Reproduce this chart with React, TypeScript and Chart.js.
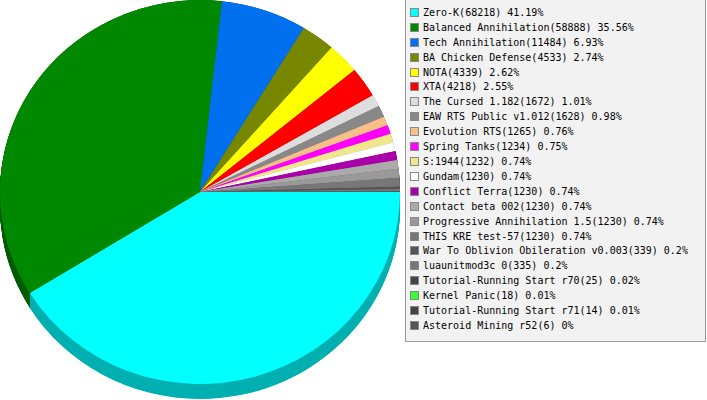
import { useEffect, useRef } from "react";
import Chart from "chart.js/auto";

const games = [
  "Zero-K",
  "Balanced Annihilation",
  "Tech Annihilation",
  "BA Chicken Defense",
  "NOTA",
  "XTA",
  "The Cursed 1.182",
  "EAW RTS Public v1.012",
  "Evolution RTS",
  "Spring Tanks",
  "S:1944",
  "Gundam",
  "Conflict Terra",
  "Contact beta 002",
  "Progressive Annihilation 1.5",
  "THIS KRE test-57",
  "War To Oblivion Obileration v0.003",
  "luaunitmod3c 0",
  "Tutorial-Running Start r70",
  "Kernel Panic",
  "Tutorial-Running Start r71",
  "Asteroid Mining r52",
];

const players = [
  68218, 58888, 11484, 4533, 4339, 4218, 1672, 1628, 1265, 1234, 1232, 1230,
  1230, 1230, 1230, 1230, 339, 335, 25, 18, 14, 6,
];

const shares = [
  "41.19%", "35.56%", "6.93%", "2.74%", "2.62%", "2.55%", "1.01%", "0.98%",
  "0.76%", "0.75%", "0.74%", "0.74%", "0.74%", "0.74%", "0.74%", "0.74%",
  "0.2%", "0.2%", "0.02%", "0.01%", "0.01%", "0%",
];

const colors = [
  "#00ffff", "#008800", "#0070ee", "#778800", "#ffff00", "#ff0000",
  "#dddddd", "#888888", "#f8c088", "#ff00ff", "#f0e68c", "#ffffff",
  "#aa00aa", "#aaaaaa", "#999999", "#777777", "#555555", "#777777",
  "#444444", "#33ff33", "#444444", "#555555",
];

const DEPTH = 15; // thickness of the pie side
const TILT = 0.96; // vertical squash of the pie

// darker colour for the side of the pie
function shade(hex: string, f: number) {
  const n = parseInt(hex.slice(1), 16);
  const r = Math.round(((n >> 16) & 255) * f);
  const g = Math.round(((n >> 8) & 255) * f);
  const b = Math.round((n & 255) * f);
  return `rgb(${r},${g},${b})`;
}

const pie3d = {
  id: "pie3d",
  beforeDatasetsDraw(chart: any) {
    const { ctx, chartArea } = chart;
    const arcs = chart.getDatasetMeta(0).data;
    ctx.save();
    ctx.translate(0, chartArea.top);
    ctx.scale(1, TILT);
    ctx.translate(0, -chartArea.top);
    for (let d = DEPTH / TILT; d > 0; d -= 0.5) {
      arcs.forEach((arc: any, i: number) => {
        const { x, y, startAngle, endAngle, outerRadius } = arc.getProps(
          ["x", "y", "startAngle", "endAngle", "outerRadius"],
          true
        );
        ctx.beginPath();
        ctx.moveTo(x, y + d);
        ctx.arc(x, y + d, outerRadius, startAngle, endAngle);
        ctx.closePath();
        ctx.fillStyle = shade(colors[i], 0.69);
        ctx.fill();
      });
    }
  },
  afterDatasetsDraw(chart: any) {
    chart.ctx.restore();
  },
};

const PieChart3D = () => {
  const canvasRef = useRef<HTMLCanvasElement | null>(null);
  const chartRef = useRef<Chart | null>(null);

  useEffect(() => {
    if (!canvasRef.current) return;
    if (chartRef.current) chartRef.current.destroy();

    chartRef.current = new Chart(canvasRef.current, {
      type: "pie",
      data: {
        labels: games,
        datasets: [
          {
            data: players,
            backgroundColor: colors,
            borderWidth: 0,
          },
        ],
      },
      options: {
        animation: false,
        responsive: false,
        rotation: 90,
        layout: { padding: { left: 0, right: 307, top: 0, bottom: 0 } },
        plugins: {
          legend: { display: false },
          tooltip: { enabled: false },
        },
        events: [],
      },
      plugins: [pie3d],
    });

    return () => {
      if (chartRef.current) {
        chartRef.current.destroy();
        chartRef.current = null;
      }
    };
  }, []);

  return (
    <div
      style={{
        position: "absolute",
        left: 0,
        top: 0,
        width: 707,
        height: 400,
        background: "#fff",
      }}
    >
      <canvas ref={canvasRef} width={707} height={400} />

      {/* legend */}
      <div
        style={{
          position: "absolute",
          left: 405,
          top: -1,
          width: 299,
          height: 336,
          paddingTop: 5,
          border: "1px solid #999",
          background: "#f2f2f2",
          fontFamily: '"DejaVu Sans Mono", monospace',
          fontSize: 10,
          color: "#000",
        }}
      >
        {games.map((g, i) => (
          <div
            key={g}
            style={{
              display: "flex",
              alignItems: "center",
              height: 14.92,
              whiteSpace: "nowrap",
            }}
          >
            <span
              style={{
                display: "inline-block",
                width: 7,
                height: 7,
                marginLeft: 4,
                marginRight: 4,
                border: "1px solid #888",
                background: colors[i],
              }}
            />
            <span>{`${g}(${players[i]}) ${shares[i]}`}</span>
          </div>
        ))}
      </div>
    </div>
  );
};

export default function App() {
  return <PieChart3D />;
}
